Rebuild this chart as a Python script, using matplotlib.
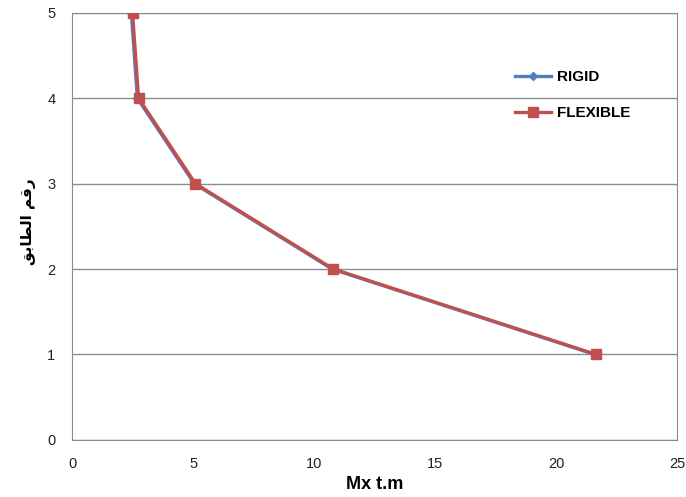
import matplotlib
matplotlib.use("Agg")
import matplotlib.pyplot as plt

# floors and Mx (t.m)
floors = [5, 4, 3, 2, 1]
mx_rigid = [2.45, 2.7, 5.05, 10.75, 21.6]
mx_flexible = [2.5, 2.75, 5.1, 10.8, 21.65]

x_ticks = [0, 5, 10, 15, 20, 25]
y_ticks = [0, 1, 2, 3, 4, 5]

# "رقم الطابق" written in presentation forms, visual order (no shaping in matplotlib)
ylabel = "\uFED6\uFE91\uFE8E\uFEC4\uFEDF\uFE8D \uFEE2\uFED7\uFEAD"

plt.rcParams["font.family"] = ["Liberation Sans", "DejaVu Sans"]

fig = plt.figure(figsize=(6.86, 4.97), dpi=100)
ax = fig.add_axes([0.105, 0.115, 0.882, 0.859])

ax.plot(mx_rigid, floors, color="#4F81BD", lw=2.4, marker="D", ms=4.5,
        label="RIGID", zorder=3)
ax.plot(mx_flexible, floors, color="#C0504D", lw=2.4, marker="s", ms=7,
        label="FLEXIBLE", zorder=4)

ax.set_xlim(0, 25)
ax.set_ylim(0, 5)
ax.set_xticks(x_ticks)
ax.set_yticks(y_ticks)
ax.grid(axis="y", color="#8c8c8c", lw=1)
ax.set_axisbelow(True)
for s in ax.spines.values():
    s.set_color("#8c8c8c")
ax.tick_params(axis="x", length=0, pad=12, labelcolor="#222222", labelsize=10.5)
ax.tick_params(axis="y", length=0, pad=12, labelcolor="#222222", labelsize=10.5)

ax.set_xlabel("Mx t.m", fontsize=13, fontweight="bold", labelpad=4)
ax.set_ylabel(ylabel, fontsize=11, fontweight="bold", family=["DejaVu Sans"])
ax.yaxis.set_label_coords(-0.06, 0.51)

ax.legend(loc="upper left", bbox_to_anchor=(0.71, 0.898), frameon=False,
          prop={"weight": "bold", "size": 11}, handlelength=2.3,
          handletextpad=0.4, labelspacing=1.45)

fig.savefig("out.png", dpi=100)
